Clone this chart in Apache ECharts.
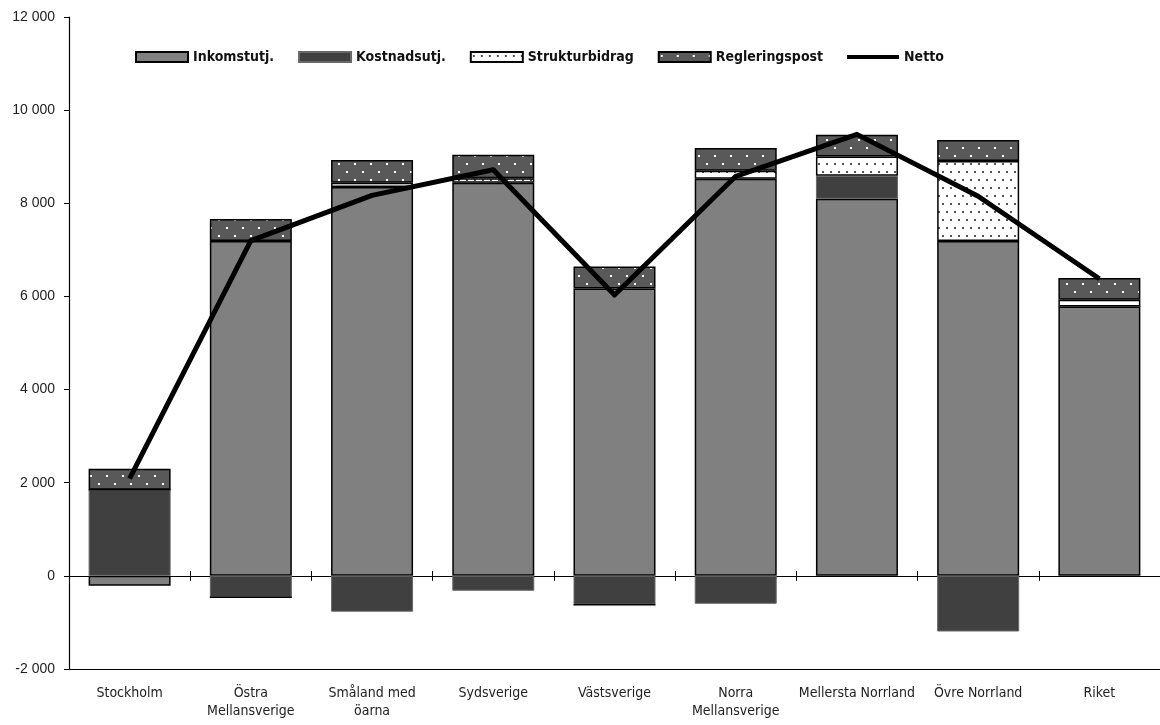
<!DOCTYPE html>
<html>
<head>
<meta charset="utf-8">
<script src="https://cdn.jsdelivr.net/npm/echarts@6/dist/echarts.min.js"></script>
<style>
  html, body { margin: 0; padding: 0; background: #ffffff; }
  #chart { width: 1160px; height: 725px; }
</style>
</head>
<body>
<div id="chart"></div>
<script>
// Regions and their equalisation components (kr per inhabitant)
const categories = ['Stockholm', 'Östra\nMellansverige', 'Småland med\nöarna', 'Sydsverige', 'Västsverige',
  'Norra\nMellansverige', 'Mellersta Norrland', 'Övre Norrland', 'Riket'];
const inkomstutj     = [-210, 7190, 8350, 8440, 6170, 8525, 8095, 7190, 5785];
const kostnadsutj    = [1850, -460, -770, -320, -620, -600, 495, -1195, 0];
const strukturbidrag = [0, 0, 90, 100, 0, 175, 415, 1720, 145];
const regleringspost = [450, 470, 490, 500, 470, 485, 465, 450, 465];
const netto          = [2090, 7200, 8170, 8720, 6030, 8580, 9480, 8150, 6380];

// Value axis range
const yMin = -2000;
const yMax = 12000;
const yStep = 2000;

const narrow = "'Liberation Sans Narrow', 'DejaVu Sans Condensed', 'Roboto Condensed', sans-serif";
const plain = "'Liberation Sans', Arial, sans-serif";

// Small repeating dotted fills
function dotPattern(bg, dot, w, h, dots, size) {
  const c = document.createElement('canvas');
  c.width = w; c.height = h;
  const g = c.getContext('2d');
  g.fillStyle = bg; g.fillRect(0, 0, w, h);
  g.fillStyle = dot;
  dots.forEach(([x, y]) => g.fillRect(x, y, size, size));
  return { image: c, repeat: 'repeat' };
}
const reglFill = dotPattern('#595959', '#ffffff', 16, 16, [[2, 3], [10, 11]], 2);
const struktFill = dotPattern('#ffffff', '#555555', 8, 16, [[2, 3], [6, 11]], 2);

function fmt(v) {
  return String(v).replace(/\B(?=(\d{3})+(?!\d))/g, ' ');
}

const chart = echarts.init(document.getElementById('chart'), null, { renderer: 'canvas' });

const barBase = { type: 'bar', stack: 'total', barWidth: 82, xAxisIndex: 0, yAxisIndex: 0 };

chart.setOption({
  animation: false,
  backgroundColor: '#ffffff',
  grid: { left: 69, top: 17, width: 1098, height: 652, containLabel: false },
  legend: {
    left: 130, top: 45,
    itemWidth: 52, itemHeight: 10, itemGap: 24,
    textStyle: { fontFamily: narrow, fontWeight: 'bold', fontSize: 14, color: '#111' },
    data: [
      { name: 'Inkomstutj.', icon: 'rect' },
      { name: 'Kostnadsutj.', icon: 'rect' },
      { name: 'Strukturbidrag', icon: 'rect' },
      { name: 'Regleringspost', icon: 'rect' },
      { name: 'Netto', icon: 'path://M0,0 L52,0 L52,4 L0,4 Z', itemStyle: { color: '#000', borderWidth: 0 } }
    ]
  },
  xAxis: [
    {
      type: 'category', data: categories, position: 'bottom',
      axisLine: { onZero: false, lineStyle: { color: '#000', width: 1.2 } },
      axisTick: { show: false },
      axisLabel: { interval: 0, fontFamily: narrow, fontSize: 14, color: '#222', margin: 15, lineHeight: 18 }
    },
    {
      type: 'category', data: categories, position: 'bottom',
      axisLine: { onZero: true, onZeroAxisIndex: 0, lineStyle: { color: '#000', width: 1.2 } },
      axisTick: { show: true, interval: 0, length: 5, lineStyle: { color: '#000' } },
      axisLabel: { show: false }
    },
    {
      type: 'category', data: categories, position: 'top',
      axisLine: { onZero: true, onZeroAxisIndex: 0, lineStyle: { color: '#000', width: 1.2 } },
      axisTick: { show: true, interval: 0, length: 5, lineStyle: { color: '#000' } },
      axisLabel: { show: false }
    }
  ],
  yAxis: {
    type: 'value', min: yMin, max: yMax, interval: yStep,
    axisLine: { show: true, lineStyle: { color: '#000', width: 1.2 } },
    axisTick: { show: true, length: 5, lineStyle: { color: '#000' } },
    splitLine: { show: false },
    axisLabel: { fontFamily: plain, fontSize: 14, color: '#222', margin: 14, formatter: fmt }
  },
  series: [
    Object.assign({}, barBase, {
      name: 'Inkomstutj.', data: inkomstutj,
      itemStyle: { color: '#808080', borderColor: '#000', borderWidth: 1.5 }
    }),
    Object.assign({}, barBase, {
      name: 'Kostnadsutj.', data: kostnadsutj,
      itemStyle: { color: '#404040', borderColor: '#686868', borderWidth: 1 }
    }),
    Object.assign({}, barBase, {
      name: 'Strukturbidrag', data: strukturbidrag,
      itemStyle: { color: struktFill, borderColor: '#000', borderWidth: 1.5 }
    }),
    Object.assign({}, barBase, {
      name: 'Regleringspost', data: regleringspost,
      itemStyle: { color: reglFill, borderColor: '#000', borderWidth: 1.5 }
    }),
    {
      name: 'Netto', type: 'line', data: netto, xAxisIndex: 0, yAxisIndex: 0,
      showSymbol: false, symbol: 'none', z: 10,
      itemStyle: { color: '#000' },
      lineStyle: { color: '#000', width: 5, join: 'round' }
    }
  ]
});
</script>
</body>
</html>
